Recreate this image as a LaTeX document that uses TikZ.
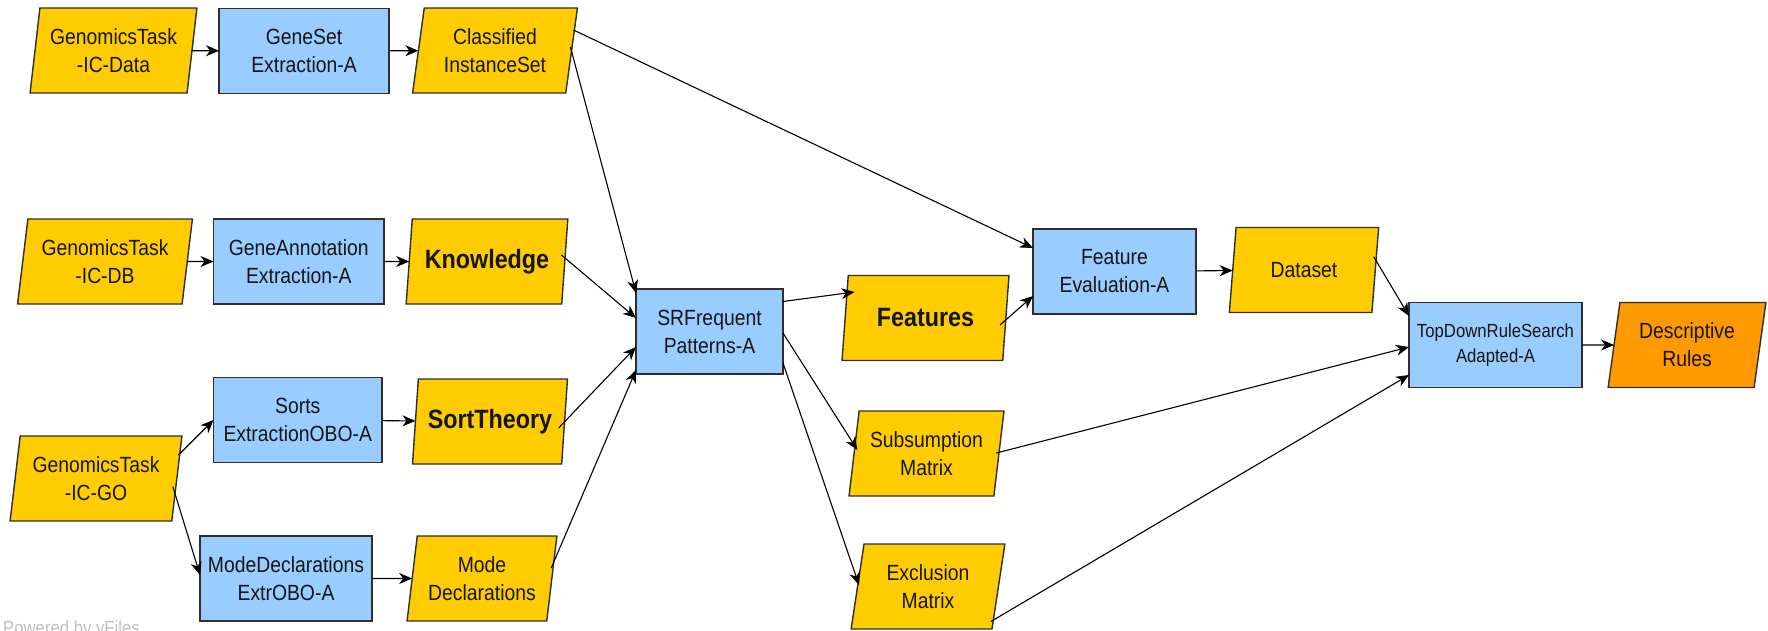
\documentclass[tikz,border=0pt]{standalone}
\usepackage{fontspec}
\setmainfont{Liberation Sans}[FakeStretch=0.88]
\usetikzlibrary{shapes.geometric,arrows.meta}

\definecolor{procblue}{HTML}{99CCFF}
\definecolor{datayellow}{HTML}{FFCC00}
\definecolor{resultorange}{HTML}{FF9900}
\definecolor{boxline}{HTML}{2E2E2E}
\definecolor{labelink}{HTML}{151515}

\newcommand\lblfont{\fontsize{22}{28}\selectfont}
\newcommand\smallfont{\fontsize{19}{25}\selectfont}
\newcommand\strongfont{\fontsize{26.5}{32}\selectfont\bfseries}

\begin{document}
\begin{tikzpicture}[x=1pt,y=-1pt,
  shapebase/.style={draw=boxline, line width=1.4pt, minimum height=85pt,
    inner sep=2pt, outer sep=0pt, align=center, text=labelink, font=\lblfont},
  proc/.style={shapebase, rectangle, fill=procblue},
  data/.style={shapebase, trapezium, trapezium left angle=79.7,
    trapezium right angle=100.3, trapezium stretches=true, fill=datayellow},
  result/.style={data, fill=resultorange},
  arr/.style={draw=black, line width=1.1pt,
    -{Stealth[length=13pt,width=11pt,inset=4pt]}}
]
\useasboundingbox (0,0) rectangle (1768,630);

% input data sets
\node[data, minimum width=167pt] (dat) at (113.5,50.5) {GenomicsTask\\-IC-Data};
\node[data, minimum width=175pt] (db)  at (105,261.5)  {GenomicsTask\\-IC-DB};
\node[data, minimum width=172pt] (go)  at (96,478.5)   {GenomicsTask\\-IC-GO};

% extraction steps
\node[proc, minimum width=170pt]   (gse) at (304,51)      {GeneSet\\Extraction-A};
\node[proc, minimum width=170.5pt] (gan) at (298.75,261.5) {GeneAnnotation\\Extraction-A};
\node[proc, minimum width=168.5pt] (srt) at (297.75,420)  {Sorts\\ExtractionOBO-A};
\node[proc, minimum width=172pt]   (mde) at (286,578.5)   {ModeDeclarations\\ExtrOBO-A};

% extracted data
\node[data, minimum width=165pt] (cls) at (495,50.5)  {Classified\\InstanceSet};
\node[data, minimum width=162pt, font=\strongfont] (kno) at (487,261.5) {Knowledge};
\node[data, minimum width=155pt, font=\strongfont] (sth) at (490,421.5) {SortTheory};
\node[data, minimum width=150pt] (mdc) at (482,578.5) {Mode\\Declarations};

% pattern mining
\node[proc, minimum width=147pt] (srf) at (709.5,331.5) {SRFrequent\\Patterns-A};
\node[data, minimum width=167pt, font=\strongfont] (fea) at (925.5,318) {Features};
\node[data, minimum width=155pt] (sub) at (926.5,453.5) {Subsumption\\Matrix};
\node[data, minimum width=154pt] (exc) at (928,586.5) {Exclusion\\Matrix};

% evaluation and rule search
\node[proc, minimum width=163pt] (fev) at (1114.5,271.5) {Feature\\Evaluation-A};
\node[data, minimum width=150pt] (dst) at (1304,270) {Dataset};
\node[proc, minimum width=173pt, font=\smallfont] (tdr) at (1495.5,345) {TopDownRuleSearch\\Adapted-A};
\node[result, minimum width=158pt] (des) at (1687,345) {Descriptive\\Rules};

\node[anchor=base west, inner sep=0pt, text=black!25, font=\fontsize{19}{19}\selectfont]
  (credit) at (3,634.5) {Powered by yFiles};

% straight chains
\draw[arr] (dat) -- (gse);
\draw[arr] (gse) -- (cls);
\draw[arr] (db) -- (gan);
\draw[arr] (gan) -- (kno);
\draw[arr] (srt) -- (sth);
\draw[arr] (mde) -- (mdc);
\draw[arr] (fev) -- (dst);
\draw[arr] (tdr) -- (des);

% GO branches
\draw[arr] ([shift={(82.5,-23.5)}]go.center) -- (srt.west);
\draw[arr] ([shift={(76.8,8)}]go.center) -- ([shift={(0,-3.5)}]mde.west);

% inputs of the pattern miner
\draw[arr] ([shift={(75.4,-3.5)}]cls.center) -- ([shift={(-73.5,-38.5)}]srf.center);
\draw[arr] ([shift={(74.4,-6.5)}]kno.center) -- ([shift={(-73.5,-13.5)}]srf.center);
\draw[arr] ([shift={(68.6,6.5)}]sth.center) -- ([shift={(-73.5,15.5)}]srf.center);
\draw[arr] ([shift={(69.2,-10.5)}]mdc.center) -- ([shift={(-73.5,38.5)}]srf.center);

% outputs of the pattern miner
\draw[arr] ([shift={(0,-30)}]srf.east) -- ([shift={(-71,-26)}]fea.center);
\draw[arr] ([shift={(0,1.5)}]srf.east) -- ([shift={(-69.1,-3.5)}]sub.center);
\draw[arr] ([shift={(0,31.5)}]srf.east) -- ([shift={(-69,-1.5)}]exc.center);

% feature evaluation
\draw[arr] ([shift={(78.5,-20.5)}]cls.center) -- ([shift={(0,-23.5)}]fev.west);
\draw[arr] ([shift={(74.5,7)}]fea.center) -- ([shift={(0,24.5)}]fev.west);

% rule search inputs
\draw[arr] ([shift={(69.7,-13.3)}]dst.center) -- ([shift={(0,-29)}]tdr.west);
\draw[arr] ([shift={(69.8,-0.5)}]sub.center) -- ([shift={(0,2)}]tdr.west);
\draw[arr] ([shift={(62.9,35)}]exc.center) -- ([shift={(0,30)}]tdr.west);
\end{tikzpicture}
\end{document}
